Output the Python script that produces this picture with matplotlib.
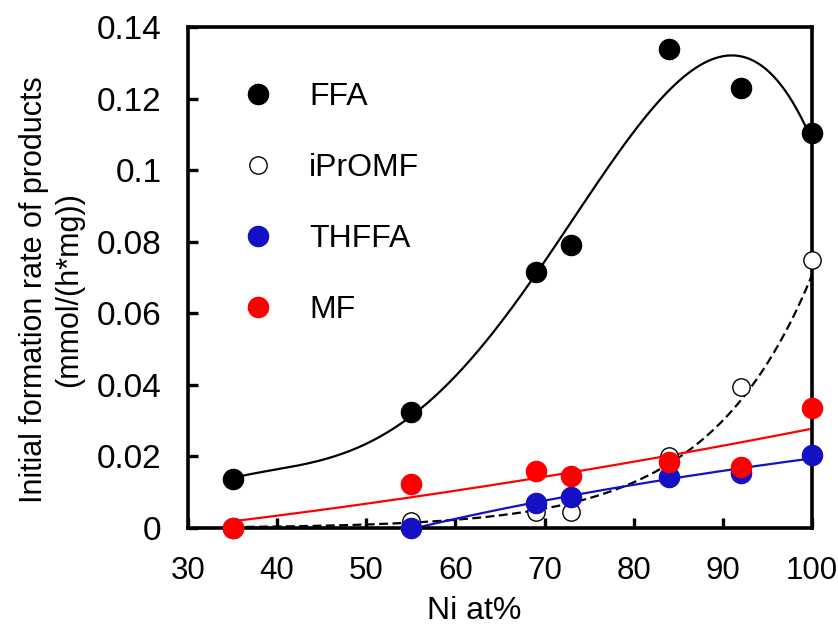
import numpy as np
import matplotlib.pyplot as plt

plt.rcParams['font.family'] = ['Liberation Sans', 'DejaVu Sans']

ni = np.array([35, 55, 69, 73, 84, 92, 100])
ffa = np.array([0.0138, 0.0324, 0.0715, 0.079, 0.1338, 0.123, 0.1104])
iprom = np.array([0.0, 0.002, 0.0045, 0.0045, 0.020, 0.0394, 0.075])
thffa = np.array([0.0, 0.0, 0.007, 0.0087, 0.0143, 0.0154, 0.0204])
mf = np.array([0.0, 0.0123, 0.016, 0.0146, 0.0185, 0.017, 0.0335])

blue = '#1410c4'
red = '#ff0000'

fig = plt.figure(figsize=(8.38, 6.26), dpi=100)
ax = fig.add_axes([0.2243, 0.1565, 0.7447, 0.8005])

xs = np.linspace(35, 100, 300)

# trend lines (poly for FFA, exponential for iPrOMF, log for THFFA, poly for MF)
p = np.polyfit(ni, ffa, 4)
ax.plot(xs, np.polyval(p, xs), color='black', lw=1.6, zorder=2)

pos = iprom > 0
b, a = np.polyfit(ni[pos], np.log(iprom[pos]), 1)
ax.plot(xs, np.exp(a) * np.exp(b * xs), color='black', lw=1.6, ls=(0, (4, 2)), zorder=2)

sel = ni >= 55
k, c = np.polyfit(np.log(ni[sel]), thffa[sel], 1)
y = k * np.log(xs) + c
m = y >= 0
ax.plot(xs[m], y[m], color=blue, lw=1.6, zorder=2)

p = np.polyfit(ni, mf, 2)
ax.plot(xs, np.polyval(p, xs), color=red, lw=1.6, zorder=2)

ms = 14.5
ax.plot(ni, ffa, 'o', color='black', ms=ms, ls='none', label='FFA', zorder=3, clip_on=False)
ax.plot(ni, iprom, 'o', mfc='white', mec='black', mew=1.0, ms=12.5, ls='none',
        label='iPrOMF', zorder=3, clip_on=False)
ax.plot(ni, thffa, 'o', color=blue, ms=ms, ls='none', label='THFFA', zorder=4, clip_on=False)
ax.plot(ni, mf, 'o', color=red, ms=ms, ls='none', label='MF', zorder=4, clip_on=False)

ax.set_xlim(30, 100)
ax.set_ylim(0, 0.14)
ax.set_xticks(np.arange(30, 101, 10))
ax.set_yticks(np.arange(0, 0.141, 0.02))
ax.set_yticklabels(['0', '0.02', '0.04', '0.06', '0.08', '0.1', '0.12', '0.14'])
ax.tick_params(direction='in', length=7, width=2.4)
ax.tick_params(axis='y', pad=19, labelsize=24)
ax.tick_params(axis='x', pad=20, labelsize=22.5)
for s in ax.spines.values():
    s.set_linewidth(2.6)

ax.set_xlabel('Ni at%', fontsize=23)
ax.xaxis.set_label_coords(0.458, -0.135)
ax.set_ylabel('Initial formation rate of products\n(mmol/(h*mg))', fontsize=22,
              linespacing=1.2)
ax.yaxis.set_label_coords(-0.167, 0.475)

ax.legend(loc='upper left', frameon=False, fontsize=23, labelspacing=1.28,
          handletextpad=0.85, borderaxespad=0.0, bbox_to_anchor=(0.053, 0.915),
          handlelength=1.5)

fig.savefig('out.png', dpi=100)
